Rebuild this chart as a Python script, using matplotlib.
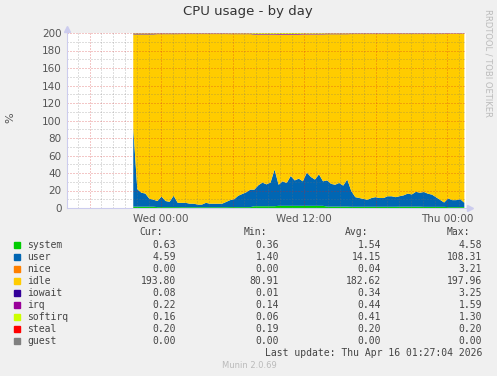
import numpy as np
import matplotlib.pyplot as plt
from matplotlib.ticker import MultipleLocator

W, H = 497, 376

# time in hours relative to Wed 00:00, user sampled about every 20 min
t_first, t_last = -2.33, 25.45
x_min, x_max = -7.89, 25.59

user = [90, 20, 16, 15, 9, 8, 7, 12, 7, 6, 13, 5, 5, 5, 4, 4, 3, 3, 5, 4,
        4, 4, 4, 6, 8, 9, 13, 15, 17, 20, 19, 24, 27, 25, 27, 42, 24, 28, 26, 34,
        29, 31, 28, 38, 33, 30, 36, 28, 30, 26, 25, 27, 24, 31, 18, 11, 10, 9, 8, 10,
        11, 10, 10, 12, 12, 11, 12, 13, 15, 14, 17, 16, 17, 15, 14, 11, 8, 5, 10, 8,
        8, 9, 5]

# slower series, one value per 2 hours
system = [1.5, 1.0, 0.9, 0.9, 1.0, 2.0, 2.5, 2.5, 1.6, 1.4, 1.4, 1.5, 1.3, 1.0]
nice = [0, 0, 0, 0, 0, 0.1, 0.2, 0, 0, 0, 0, 0, 0, 0]
iowait = [0.5, 0.4, 0.3, 0.3, 0.3, 0.4, 0.4, 0.3, 0.3, 0.3, 0.3, 0.3, 0.3, 0.2]
irq = [0.5, 0.4, 0.4, 0.4, 0.4, 0.5, 0.6, 0.6, 0.5, 0.4, 0.4, 0.4, 0.4, 0.3]
softirq = [0.4, 0.3, 0.3, 0.3, 0.4, 0.8, 0.9, 0.6, 0.4, 0.3, 0.3, 0.3, 0.3, 0.2]
steal = [0.2] * 14
guest = [0] * 14
capacity = 200  # 2 cpus

names = ["system", "user", "nice", "idle", "iowait", "irq", "softirq", "steal", "guest"]
colors = ["#00CC00", "#0066B3", "#FF8000", "#FFCC00", "#330099",
          "#990099", "#CCFF00", "#FF0000", "#808080"]
cur = ["0.63", "4.59", "0.00", "193.80", "0.08", "0.22", "0.16", "0.20", "0.00"]
mins = ["0.36", "1.40", "0.00", "80.91", "0.01", "0.14", "0.06", "0.19", "0.00"]
avgs = ["1.54", "14.15", "0.04", "182.62", "0.34", "0.44", "0.41", "0.20", "0.00"]
maxs = ["4.58", "108.31", "3.21", "197.96", "3.25", "1.59", "1.30", "0.20", "0.00"]

n = len(user)
u = np.array(user, float)
def hold(v):
    return np.repeat(np.array(v, float), 6)[:n]
sy, ni, io, iq, si, st, gu = [hold(v) for v in (system, nice, iowait, irq, softirq, steal, guest)]
idle = capacity - (sy + u + ni + io + iq + si + st + gu)

layers = [sy, u, ni, idle, io, iq, si, st, gu]
t = np.linspace(t_first, t_last, n)

fig = plt.figure(figsize=(W / 100, H / 100), dpi=100, facecolor="#F0F0F0")
ax = fig.add_axes([67 / W, 1 - 208 / H, 399 / W, 175 / H])
ax.set_facecolor("white")
ax.stackplot(t, layers, colors=colors, linewidth=0, zorder=1)

ax.set_xlim(x_min, x_max)
ax.set_ylim(0, 200)

# grid drawn over the data, like rrdtool
dots = (0, (1, 2))
for h in np.arange(-7, 26, 1):
    if h % 6 == 0:
        ax.axvline(h, color="#D02020", alpha=0.5, linestyle=dots, linewidth=0.72, zorder=3)
    else:
        ax.axvline(h, color="#707070", alpha=0.45, linestyle=dots, linewidth=0.72, zorder=3)
for v in range(10, 201, 10):
    if v % 20 == 0:
        ax.axhline(v, color="#D02020", alpha=0.5, linestyle=dots, linewidth=0.72, zorder=3)
    else:
        ax.axhline(v, color="#707070", alpha=0.45, linestyle=dots, linewidth=0.72, zorder=3)

ax.set_xticks([0, 12, 24])
ax.set_xticklabels(["Wed 00:00", "Wed 12:00", "Thu 00:00"])
ax.yaxis.set_major_locator(MultipleLocator(20))
ax.tick_params(which="both", length=0, labelsize=7.5, labelcolor="#555555", pad=4)
for s in ["top", "right"]:
    ax.spines[s].set_visible(False)
for s in ["left", "bottom"]:
    ax.spines[s].set_color("#CCCCEE")
    ax.spines[s].set_linewidth(0.8)
    ax.spines[s].set_zorder(4)
ax.plot([x_min], [205], marker="^", ms=5, color="#CCCCEE", clip_on=False)
ax.plot([x_max + 0.3], [0], marker=">", ms=5, color="#CCCCEE", clip_on=False)

def px(x, y):
    return x / W, 1 - y / H

fig.text(*px(248, 12), "CPU usage - by day", ha="center", va="center",
         fontsize=9.5, color="#333333")
fig.text(*px(10, 118), "%", ha="center", va="center", rotation=90,
         fontsize=8, color="#555555")
fig.text(*px(488, 63), "RRDTOOL / TOBI OETIKER", ha="center", va="center",
         rotation=270, fontsize=6, color="#BBBBBB")

mono = "DejaVu Sans Mono"
fs = 7
txt = "#444444"
for label, xr in zip(["Cur:", "Min:", "Avg:", "Max:"], [163, 267, 368, 470]):
    fig.text(*px(xr, 232), label, ha="right", va="center", family=mono, fontsize=fs, color=txt)
for i, name in enumerate(names):
    y = 245 + 12 * i
    fig.patches.append(plt.Rectangle(px(14, y + 3), 6 / W, 6 / H, transform=fig.transFigure,
                                     color=colors[i], figure=fig))
    fig.text(*px(27, y), name, ha="left", va="center", family=mono, fontsize=fs, color=txt)
    for col, xr in zip([cur, mins, avgs, maxs], [176, 279, 381, 482]):
        fig.text(*px(xr, y), col[i], ha="right", va="center", family=mono, fontsize=fs, color=txt)

fig.text(*px(482, 353), "Last update: Thu Apr 16 01:27:04 2026", ha="right", va="center",
         family=mono, fontsize=fs, color=txt)
fig.text(*px(249, 365), "Munin 2.0.69", ha="center", va="center", fontsize=6, color="#BBBBBB")

fig.savefig("out.png", dpi=100, facecolor=fig.get_facecolor())
